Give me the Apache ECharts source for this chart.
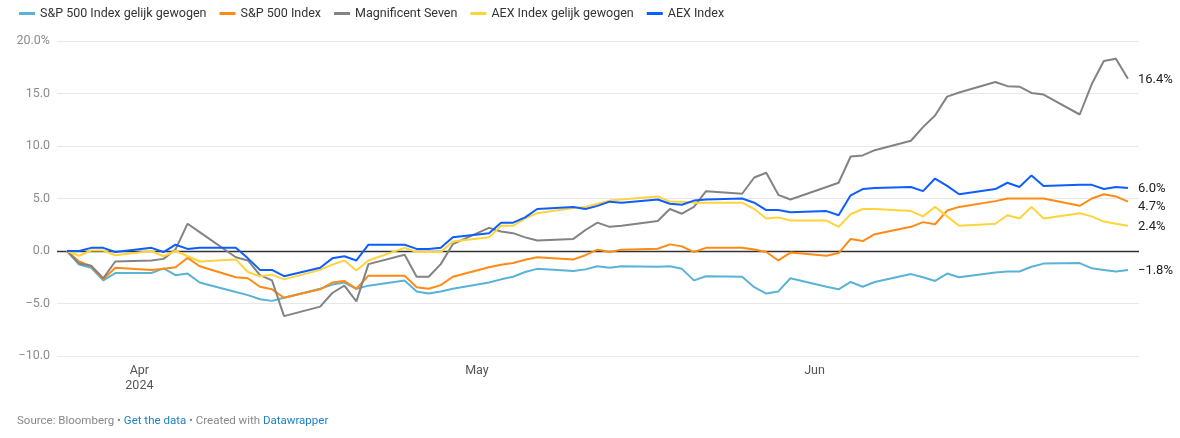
<!DOCTYPE html>
<html>
<head>
<meta charset="utf-8">
<script src="https://cdn.jsdelivr.net/npm/echarts@6.0.0/dist/echarts.min.js"></script>
<style>
  html, body { margin: 0; padding: 0; background: #fff; }
  #chart { width: 1180px; height: 438px; }
</style>
</head>
<body>
<div id="chart"></div>
<script>
// trading days, Apr 1 = base
const dates = [
  '2024-04-01', '2024-04-02', '2024-04-03', '2024-04-04', '2024-04-05',
  '2024-04-08', '2024-04-09', '2024-04-10', '2024-04-11', '2024-04-12',
  '2024-04-15', '2024-04-16', '2024-04-17', '2024-04-18', '2024-04-19',
  '2024-04-22', '2024-04-23', '2024-04-24', '2024-04-25', '2024-04-26',
  '2024-04-29', '2024-04-30', '2024-05-01', '2024-05-02', '2024-05-03',
  '2024-05-06', '2024-05-07', '2024-05-08', '2024-05-09', '2024-05-10',
  '2024-05-13', '2024-05-14', '2024-05-15', '2024-05-16', '2024-05-17',
  '2024-05-20', '2024-05-21', '2024-05-22', '2024-05-23', '2024-05-24',
  '2024-05-27', '2024-05-28', '2024-05-29', '2024-05-30', '2024-05-31',
  '2024-06-03', '2024-06-04', '2024-06-05', '2024-06-06', '2024-06-07',
  '2024-06-10', '2024-06-11', '2024-06-12', '2024-06-13', '2024-06-14',
  '2024-06-17', '2024-06-18', '2024-06-19', '2024-06-20', '2024-06-21',
  '2024-06-24', '2024-06-25', '2024-06-26', '2024-06-27', '2024-06-28'
];

const spEqual = [
  0, -1.3, -1.6, -2.8, -2.1,
  -2.1, -1.65, -2.3, -2.15, -3.0,
  -3.9, -4.2, -4.6, -4.75, -4.45,
  -3.6, -3.2, -3.0, -3.6, -3.3,
  -2.8, -3.85, -4.05, -3.85, -3.6,
  -3.0, -2.7, -2.45, -2.0, -1.7,
  -1.9, -1.75, -1.45, -1.6, -1.45,
  -1.5, -1.45, -1.7, -2.8, -2.4,
  -2.45, -3.45, -4.05, -3.85, -2.6,
  -3.4, -3.65, -2.95, -3.4, -2.95,
  -2.2, -2.5, -2.85, -2.15, -2.5,
  -2.05, -1.95, -1.95, -1.5, -1.2,
  -1.15, -1.65, -1.8, -1.95, -1.8
];

const sp500 = [
  0, -1.0, -1.45, -2.7, -1.6,
  -1.8, -1.7, -1.55, -0.65, -1.45,
  -2.5, -2.6, -3.4, -3.65, -4.45,
  -3.65, -3.0, -2.85, -3.6, -2.35,
  -2.35, -3.45, -3.6, -3.25, -2.45,
  -1.55, -1.3, -1.15, -0.83, -0.6,
  -0.8, -0.4, 0.13, -0.1, 0.13,
  0.22, 0.63, 0.44, -0.1, 0.3,
  0.3, 0.15, -0.1, -0.9, -0.15,
  -0.45, -0.2, 1.15, 0.95, 1.6,
  2.3, 2.75, 2.55, 3.85, 4.2,
  4.75, 5.0, 5.0, 5.0, 5.0,
  4.3, 5.0, 5.4, 5.2, 4.7
];

const mag7 = [
  0, -1.2, -1.4, -2.6, -1.0,
  -0.9, -0.75, 0.15, 2.6, 1.8,
  -0.6, -0.9, -2.3, -2.8, -6.2,
  -5.3, -4.0, -3.3, -4.8, -1.25,
  -0.35, -2.45, -2.45, -1.25, 0.65,
  2.2, 1.85, 1.7, 1.3, 1.0,
  1.15, 2.0, 2.7, 2.3, 2.4,
  2.85, 4.0, 3.55, 4.2, 5.7,
  5.45, 7.0, 7.45, 5.35, 4.9,
  6.1, 6.5, 9.0, 9.1, 9.6,
  10.5, 11.8, 12.9, 14.7, 15.1,
  16.1, 15.7, 15.65, 15.05, 14.9,
  13.0, 15.9, 18.1, 18.3, 16.4
];

const aexEqual = [
  0, -0.45, 0.05, 0.05, -0.4,
  0.0, -0.5, 0.0, -0.5, -1.0,
  -0.8, -2.0, -2.4, -2.25, -2.7,
  -1.8, -1.3, -0.9, -1.85, -0.9,
  0.3, -0.1, -0.1, -0.1, 0.9,
  1.3, 2.4, 2.4, 3.1, 3.6,
  4.1, 4.2, 4.5, 4.8, 4.9,
  5.2, 4.7, 4.7, 4.6, 4.6,
  4.6, 4.0, 3.1, 3.2, 2.9,
  2.9, 2.3, 3.5, 4.0, 4.0,
  3.8, 3.3, 4.2, 3.3, 2.4,
  2.6, 3.4, 3.1, 4.2, 3.1,
  3.6, 3.3, 2.8, 2.6, 2.4
];

const aex = [
  0, 0, 0.3, 0.3, -0.1,
  0.3, -0.1, 0.6, 0.2, 0.3,
  0.3, -0.7, -1.8, -1.8, -2.4,
  -1.6, -0.7, -0.5, -0.9, 0.6,
  0.6, 0.2, 0.2, 0.3, 1.3,
  1.7, 2.7, 2.7, 3.2, 4.0,
  4.2, 4.0, 4.3, 4.7, 4.6,
  4.9, 4.5, 4.4, 4.8, 4.9,
  5.0, 4.6, 3.9, 3.9, 3.7,
  3.8, 3.4, 5.3, 5.9, 6.0,
  6.1, 5.7, 6.9, 6.2, 5.4,
  5.9, 6.5, 6.1, 7.2, 6.2,
  6.3, 6.3, 5.9, 6.1, 6.0
];

const seriesNames = [
  'S&P 500 Index gelijk gewogen',
  'S&P 500 Index',
  'Magnificent Seven',
  'AEX Index gelijk gewogen',
  'AEX Index'
];
const seriesValues = [spEqual, sp500, mag7, aexEqual, aex];
const seriesColors = ['#59b3d7', '#ff8a14', '#838383', '#ffd43b', '#0e5dff'];

// x tick labels
const tickDates = ['2024-04-07', '2024-05-05', '2024-06-02'];
const tickLabels = ['Apr\n2024', 'May', 'Jun'];

const yTicks = [-10, -5, 0, 5, 10, 15, 20];

const FONT = 'Roboto, "Noto Sans", sans-serif';
const MINUS = '\u2212';
const HOUR = 3600 * 1000;

function toTime(d) {
  return Date.parse(d + 'T00:00:00Z');
}

function fmtY(v) {
  const s = Math.abs(v).toFixed(1);
  const txt = (v < 0 ? MINUS : '') + s;
  return v === yTicks[yTicks.length - 1] ? txt + '%' : txt;
}

function fmtEnd(v) {
  return (v < 0 ? MINUS : '') + Math.abs(v).toFixed(1) + '%';
}

function buildSeries() {
  return seriesNames.map((name, i) => {
    const s = {
      name: name,
      type: 'line',
      data: dates.map((d, k) => [toTime(d), seriesValues[i][k]]),
      showSymbol: false,
      symbol: 'none',
      color: seriesColors[i],
      lineStyle: { width: 2, color: seriesColors[i] },
      emphasis: { disabled: true },
      z: 3 + i,
      endLabel: {
        show: true,
        distance: 10,
        color: '#222',
        fontFamily: FONT,
        fontSize: 13,
        formatter: p => fmtEnd(p.value[1]),
        offset: name === 'S&P 500 Index' ? [0, 5] : [0, 1]
      }
    };
    if (i === 0) {
      s.markLine = {
        silent: true,
        symbol: 'none',
        label: { show: false },
        lineStyle: { color: '#333', width: 1.3, type: 'solid' },
        data: [{ yAxis: 0 }],
        z: 2
      };
    }
    return s;
  });
}

const tickTimes = tickDates.map(toTime);

const option = {
  animation: false,
  backgroundColor: '#fff',
  textStyle: { fontFamily: FONT },
  legend: {
    data: seriesNames,
    left: 14,
    top: 2,
    icon: 'rect',
    itemWidth: 16,
    itemHeight: 3,
    itemGap: 13,
    selectedMode: false,
    textStyle: { fontSize: 12.5, color: '#333', fontFamily: FONT }
  },
  grid: { left: 57, right: 41, top: 41, bottom: 82 },
  xAxis: {
    type: 'value',
    min: toTime('2024-04-01') - 20 * HOUR,
    max: toTime('2024-06-28') + 22 * HOUR,
    axisLine: { show: false },
    axisTick: { show: false },
    splitLine: { show: false },
    axisLabel: {
      customValues: tickTimes,
      margin: 7,
      color: '#555',
      fontSize: 12.5,
      lineHeight: 15,
      fontFamily: FONT,
      formatter: v => {
        const k = tickTimes.indexOf(+v);
        return k >= 0 ? tickLabels[k] : '';
      }
    }
  },
  yAxis: {
    type: 'value',
    min: -10,
    max: 20,
    interval: 5,
    axisLine: { show: false },
    axisTick: { show: false },
    splitLine: { lineStyle: { color: '#e8e8e8', width: 1 } },
    axisLabel: {
      margin: 7,
      color: '#8c8c8c',
      fontSize: 12.5,
      fontFamily: FONT,
      formatter: fmtY
    }
  },
  series: buildSeries(),
  graphic: [{
    type: 'text',
    left: 17,
    top: 415,
    style: {
      text: '{g|Source: Bloomberg • }{b|Get the data}{g| • Created with }{b|Datawrapper}',
      rich: {
        g: { fill: '#888', fontSize: 11.5, fontFamily: FONT },
        b: { fill: '#1d81c4', fontSize: 11.5, fontFamily: FONT }
      }
    }
  }]
};

const chart = echarts.init(document.getElementById('chart'));
chart.setOption(option);
</script>
</body>
</html>
